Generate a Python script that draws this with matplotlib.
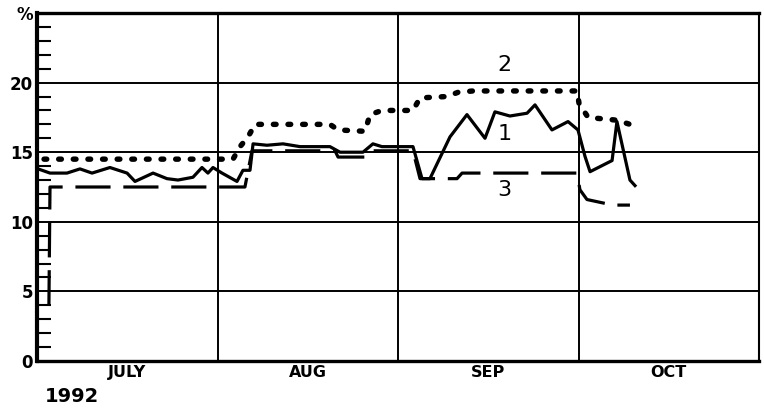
import matplotlib
matplotlib.use("Agg")
import matplotlib.pyplot as plt
from matplotlib.ticker import MultipleLocator, FixedLocator, NullFormatter

# x positions are in months from 1 July 1992 (each month drawn equally wide)
months = ["JULY", "AUG", "SEP", "OCT"]

x1 = [0.006, 0.072, 0.166, 0.238, 0.305, 0.404, 0.499, 0.543, 0.643, 0.720,
      0.781, 0.864, 0.914, 0.947, 0.975, 1.025, 1.108, 1.141, 1.180, 1.197,
      1.274, 1.363, 1.457, 1.623, 1.679, 1.806, 1.861, 1.911, 2.083, 2.133,
      2.177, 2.288, 2.382, 2.482, 2.537, 2.620, 2.715, 2.759, 2.853, 2.942,
      2.997, 3.036, 3.064, 3.186, 3.213, 3.285, 3.313]
y1 = [13.8, 13.5, 13.5, 13.8, 13.5, 13.9, 13.5, 12.9, 13.5, 13.1,
      13.0, 13.2, 13.9, 13.5, 13.9, 13.5, 12.9, 13.7, 13.7, 15.6,
      15.5, 15.6, 15.4, 15.4, 15.0, 15.0, 15.6, 15.4, 15.4, 13.1,
      13.1, 16.1, 17.7, 16.0, 17.9, 17.6, 17.8, 18.4, 16.6, 17.2,
      16.6, 14.7, 13.6, 14.4, 17.2, 13.0, 12.6]

x2 = [0.039, 1.025, 1.086, 1.125, 1.169, 1.208, 1.623, 1.668, 1.817, 1.845,
      1.911, 2.083, 2.122, 2.271, 2.332, 2.416, 2.992, 3.003, 3.053, 3.130,
      3.213, 3.285]
y2 = [14.5, 14.5, 14.5, 15.4, 16.1, 17.0, 17.0, 16.6, 16.5, 17.7,
      18.0, 18.0, 18.9, 19.0, 19.3, 19.4, 19.4, 18.5, 17.5, 17.4,
      17.3, 17.0]

x3 = [0.066, 0.072, 1.152, 1.191, 1.651, 1.668, 1.834, 1.856, 2.083, 2.122,
      2.327, 2.355, 2.992, 3.008, 3.047, 3.119, 3.191, 3.285]
y3 = [4.0, 12.5, 12.5, 15.1, 15.1, 14.65, 14.65, 15.1, 15.1, 13.1,
      13.1, 13.5, 13.5, 12.3, 11.6, 11.4, 11.2, 11.2]

series_labels = ["1", "2", "3"]
label_x = [2.59, 2.59, 2.59]
label_y = [16.3, 21.3, 12.3]

ytick_vals = [0, 5, 10, 15, 20, 25]
ytick_text = ["0", "5", "10", "15", "20", "%"]
year = "1992"

fig = plt.figure(figsize=(7.64, 4.12), dpi=100)
ax = fig.add_axes([37 / 764, 51 / 412, 722 / 764, 348 / 412])

ax.plot(x1, y1, color="black", lw=2.3, solid_joinstyle="round", zorder=4)
ax.plot(x2, y2, color="black", lw=3.9, linestyle=(0, (0.5, 2.2)),
        dash_capstyle="round", zorder=4)
ax.plot(x3, y3, color="black", lw=2.3, linestyle=(0, (11, 4)), zorder=4)

for t, lx, ly in zip(series_labels, label_x, label_y):
    ax.text(lx, ly, t, fontsize=16, ha="center", va="center", zorder=5)

ax.set_xlim(0, 4)
ax.set_ylim(0, 25)

# grid lines at month boundaries and every 5 %
for xv in [1, 2, 3]:
    ax.axvline(xv, color="black", lw=1.4, zorder=2)
for yv in [5, 10, 15, 20]:
    ax.axhline(yv, color="black", lw=1.4, zorder=2)

ax.xaxis.set_major_locator(FixedLocator([0, 1, 2, 3, 4]))
ax.xaxis.set_major_formatter(NullFormatter())
ax.xaxis.set_minor_locator(FixedLocator([0.5, 1.5, 2.5, 3.5]))
ax.set_xticklabels(months, minor=True, fontsize=11.5, fontweight="bold")
ax.tick_params(axis="x", which="both", length=0, pad=3)

ax.set_yticks(ytick_vals)
ax.set_yticklabels(ytick_text, fontsize=12, fontweight="bold")
ax.yaxis.set_minor_locator(MultipleLocator(1))
ax.tick_params(axis="y", which="major", length=0, pad=3)
ax.tick_params(axis="y", which="minor", direction="in", length=10, width=1.5)

ax.spines["left"].set_linewidth(3)
ax.spines["bottom"].set_linewidth(2.4)
ax.spines["top"].set_linewidth(2.4)
ax.spines["right"].set_linewidth(1.5)

fig.text(72 / 764, 1 - 397 / 412, year, fontsize=14, fontweight="bold",
         ha="center", va="center")

fig.savefig("out.png", dpi=100)
